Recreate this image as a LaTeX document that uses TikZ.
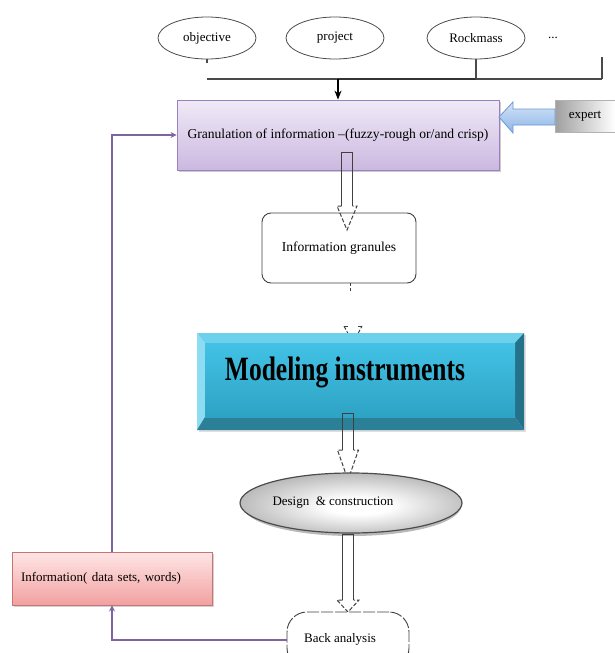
\documentclass[tikz,border=0pt]{standalone}
\usepackage{fontspec}
\setmainfont{Liberation Serif}
\usepackage{graphicx}
\usetikzlibrary{shapes.geometric,arrows.meta,calc}
\definecolor{lineg}{HTML}{4A4A4A}
\definecolor{purp}{HTML}{8064A2}
\definecolor{lavtop}{HTML}{F0EAF7}
\definecolor{lavbot}{HTML}{CBB8E0}
\definecolor{lavdraw}{HTML}{9A80BE}
\definecolor{pinktop}{HTML}{FFE6E6}
\definecolor{pinkbot}{HTML}{F2A0A0}
\definecolor{pinkdraw}{HTML}{C87474}
\definecolor{cyface1}{HTML}{42C2E5}
\definecolor{cyface2}{HTML}{2EA3C4}
\definecolor{cytop}{HTML}{6DD0EC}
\definecolor{cyleft}{HTML}{8EDCF1}
\definecolor{cyright}{HTML}{24718A}
\definecolor{cybot}{HTML}{2B8098}
\definecolor{bluetop}{HTML}{D3E4F8}
\definecolor{bluebot}{HTML}{8DB4E6}
\definecolor{bluedraw}{HTML}{6A98D4}
\pgfdeclareradialshading{discglow}{\pgfpoint{2bp}{-3bp}}{%
  color(0bp)=(white); color(7bp)=(white); color(25bp)=(black!25); color(42bp)=(black!48); color(50bp)=(black!52)}
\newcommand\holarrow[5]{%
  \draw[arrline] ({#1-5.5},#3) -- ({#1-5.5},#2) -- ({#1+5.5},#2) -- ({#1+5.5},#3);
  \draw[arrline,dash pattern=on 4pt off 2pt] ({#1-5.5},#3) -- ({#1-#5},#3) -- (#1,#4) -- ({#1+#5},#3) -- ({#1+5.5},#3);
}
\begin{document}
\begin{tikzpicture}[x=1pt,y=-1pt,
  txt/.style={font=\fontsize{13}{15}\selectfont},
  oval/.style={ellipse, draw=gray!60!black, line width=0.8pt, minimum width=98pt, minimum height=42pt, inner sep=0pt, txt},
  hline/.style={draw=lineg, line width=2pt},
  vline/.style={draw=lineg, line width=1.3pt},
  arrline/.style={draw=black!75, line width=1pt},
  purpline/.style={draw=purp, line width=2.4pt, -{Stealth[length=6pt,width=6pt]}},
  granbox/.style={draw=lavdraw, line width=0.8pt, top color=lavtop, bottom color=lavbot, minimum width=322pt, minimum height=70pt, inner sep=0pt, font=\fontsize{13.6}{15}\selectfont},
  infobox/.style={draw=pinkdraw, line width=0.8pt, top color=pinktop, bottom color=pinkbot, minimum width=200pt, minimum height=53pt, inner xsep=9pt, inner ysep=0pt, text width=182pt, align=left, txt},
  roundbox/.style={draw=gray!50!black, line width=0.9pt, rounded corners=9pt, fill=white, inner sep=0pt, txt}
]
\useasboundingbox (0,0) rectangle (615,653);

% top ellipses
\node[oval] (obj) at (207,38) {objective};
\node[oval] (proj) at (335,38) {project};
\node[oval] (rock) at (476,38) {Rockmass};
\node[txt] (dots) at (553,38) {...};

\coordinate (jl) at (207,79);
\coordinate (jm) at (338,79);
\coordinate (jk) at (476,79);
\coordinate (jr) at (602,79);
\coordinate (rtop) at (602,57);
\draw[vline] (obj.south) -- ++(0,4);
\draw[hline] (jl) -- (jr);
\draw[hline, line width=2.6pt, draw=black!80] (jm) -- (jk);
\draw[vline] (rock.south) -- (jk);
\draw[vline] (rtop) -- (jr);

% granulation box
\fill[gray!40] (179,102) rectangle (501,172);
\node[granbox] (gran) at (338,135) {Granulation of information --(fuzzy-rough or/and crisp)};
\draw[black, line width=1.3pt, -{Stealth[length=9pt,width=7pt]}] (jm) -- (gran.north);

% expert
\node[draw=gray!60, left color=gray!75, right color=white, minimum width=60pt, minimum height=32pt, inner sep=0pt, txt] (expert) at (585,116) {expert};
\draw[draw=bluedraw, line width=0.8pt, top color=bluetop, bottom color=bluebot]
  (499,117) -- (513,102) -- (513,109) -- (555,109) -- (555,125) -- (513,125) -- (513,133) -- cycle;

% information granules
\node[roundbox, minimum width=154pt, minimum height=70pt, font=\fontsize{13.6}{15}\selectfont] (granules) at (339,248) {Information granules};
\holarrow{347}{152}{206}{230}{10}

% tick and head toward modeling
\draw[arrline, dash pattern=on 3pt off 2pt] (granules.south -| 350,0) -- (350,291);
\draw[arrline, dash pattern=on 4pt off 2pt] (344,326) -- (353,343) -- (362,326);
\draw[arrline] (344,326) -- (348,326);
\draw[arrline] (358,326) -- (362,326);

% modeling instruments bevel box
\fill[gray!25] (199,335) rectangle (526,432);
\fill[cytop] (197,333) -- (524,333) -- (515,343) -- (205,343) -- cycle;
\fill[cyleft] (197,333) -- (205,343) -- (205,417) -- (197,430) -- cycle;
\fill[cyright] (524,333) -- (524,430) -- (515,417) -- (515,343) -- cycle;
\fill[cybot] (197,430) -- (524,430) -- (515,417) -- (205,417) -- cycle;
\shade[top color=cyface1, bottom color=cyface2] (205,343) rectangle (515,417);
\node[minimum width=327pt, minimum height=97pt, inner sep=0pt] (model) at (360.5,381.5) {};
\node[font=\fontsize{34}{36}\selectfont\bfseries, inner sep=0pt] (modeltxt) at (345,372) {\scalebox{0.75}[1]{Modeling instruments}};

\holarrow{348}{413}{450}{480}{10.5}

% design & construction
\fill[gray!55] (352,506) ellipse (109pt and 30pt);
\node[ellipse, draw=black!70, line width=1.2pt, shading=discglow, minimum width=218pt, minimum height=60pt, inner sep=0pt, txt] (design) at (351,503) {\raisebox{4pt}{Design~~\&~construction}\hspace*{36pt}};

\holarrow{348}{534}{600}{612}{11}

% back analysis
\node[roundbox, rounded corners=20pt, minimum width=122pt, minimum height=56pt, dash pattern=on 12pt off 2pt] (back) at (348,640) {\raisebox{5pt}{Back analysis}\hspace*{16pt}};

% information
\fill[gray!35] (14,554) rectangle (214,607);
\node[infobox] (info) at (112,578.5) {Information( data sets, words)};

% feedback loop
\draw[purpline] (back.west) -| (info.south);
\draw[purpline] (info.north) |- (gran.west);
\end{tikzpicture}
\end{document}
